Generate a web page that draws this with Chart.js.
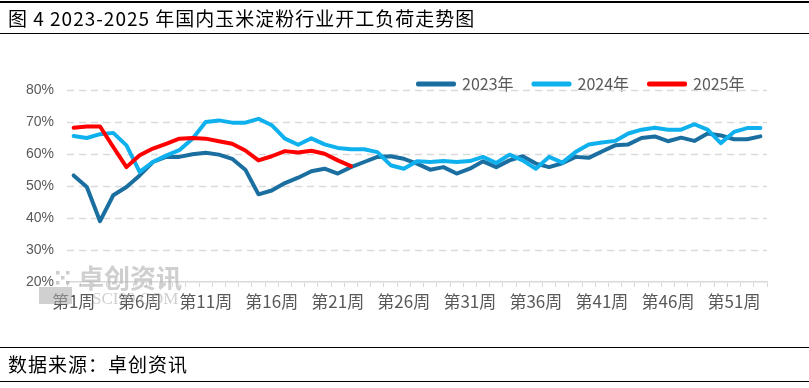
<!DOCTYPE html>
<html>
<head>
<meta charset="utf-8">
<script src="https://cdn.jsdelivr.net/npm/chart.js@4/dist/chart.umd.min.js"></script>
<style>
  html, body { margin: 0; padding: 0; background: #fff; }
  #wrap { position: relative; width: 809px; height: 388px; overflow: hidden; }
  #chart { position: absolute; left: 0; top: 0; }
  .bar { position: absolute; left: 0; width: 809px; box-sizing: border-box; padding-left: 8px;
         font: 19px "Noto Sans CJK SC"; letter-spacing: 1px; color: #000; }
  #title { top: 1px; height: 33px; line-height: 30px; border-top: 2px solid #000; border-bottom: 1.5px solid #000; }
  #source { top: 347px; height: 35px; line-height: 32px; border-top: 1.5px solid #000; border-bottom: 1.5px solid #000; }
</style>
</head>
<body>
<div id="wrap">
  <canvas id="chart" width="809" height="388"></canvas>
  <div id="title" class="bar">图 4 2023-2025 年国内玉米淀粉行业开工负荷走势图</div>
  <div id="source" class="bar">数据来源：卓创资讯</div>
</div>
<script>
// 周次
const weeks = Array.from({ length: 53 }, (_, i) => '第' + (i + 1) + '周');

// 开工负荷 (%)
const y2023 = [53.3, 49.7, 39.0, 47.1, 49.7, 53.3, 57.5, 59.1, 59.1, 59.9,
               60.4, 59.8, 58.5, 55.1, 47.4, 48.6, 50.9, 52.6, 54.6, 55.4,
               53.9, 55.9, 57.5, 59.1, 59.3, 58.5, 57.0, 55.1, 55.9, 53.9,
               55.4, 57.7, 55.9, 58.0, 59.3, 57.0, 55.9, 57.1, 59.1, 58.8,
               60.8, 62.7, 63.0, 65.0, 65.5, 64.0, 65.1, 64.1, 66.4, 65.8,
               64.6, 64.6, 65.5];
const y2024 = [65.6, 65.0, 66.2, 66.6, 62.7, 54.4, 57.5, 59.5, 61.2, 64.8,
               70.0, 70.5, 69.8, 69.8, 71.0, 69.0, 64.8, 62.9, 64.9, 63.0,
               61.9, 61.5, 61.5, 60.6, 56.5, 55.4, 57.7, 57.5, 57.8, 57.5,
               57.8, 59.1, 57.2, 59.8, 58.0, 55.4, 59.1, 57.3, 60.6, 63.0,
               63.6, 64.1, 66.4, 67.6, 68.2, 67.6, 67.6, 69.3, 67.6, 63.4,
               66.9, 68.1, 68.1];
const y2025 = [68.2, 68.6, 68.6, 62.2, 55.9, 59.6, 61.7, 63.2, 64.8, 65.0,
               64.8, 64.0, 63.2, 61.1, 58.0, 59.3, 60.9, 60.5, 61.0, 60.1,
               58.0, 56.2];

const seriesNames = ['2023年', '2024年', '2025年'];
const yTicks = [20, 30, 40, 50, 60, 70, 80];

const gray = '#595959';
const gridGray = '#d9d9d9';

function line(label, data, color, order) {
  return {
    label: label,
    data: data,
    borderColor: color,
    backgroundColor: color,
    borderWidth: 4,
    pointRadius: 0,
    tension: 0,
    borderJoinStyle: 'round',
    borderCapStyle: 'round',
    order: order
  };
}

// 图例挪到绘图区上方右侧
const legendPos = {
  id: 'legendPos',
  afterUpdate(chart) {
    const lg = chart.legend;
    const h = lg.bottom - lg.top;
    lg.left = 398;
    lg.right = 809;
    lg.top = 56;
    lg.bottom = lg.top + h;
  }
};

// 虚线网格 (按 y 轴刻度)
const dashedGrid = {
  id: 'dashedGrid',
  beforeDatasetsDraw(chart) {
    const ctx = chart.ctx;
    const area = chart.chartArea;
    const y = chart.scales.y;
    ctx.save();
    ctx.strokeStyle = gridGray;
    ctx.lineWidth = 1.5;
    ctx.setLineDash([7, 5]);
    yTicks.slice(1).forEach(v => {
      const py = Math.round(y.getPixelForValue(v)) + 0.5;
      ctx.beginPath();
      ctx.moveTo(area.left, py);
      ctx.lineTo(area.right, py);
      ctx.stroke();
    });
    ctx.restore();
  }
};

// 水印
const watermark = {
  id: 'watermark',
  afterDraw(chart) {
    const ctx = chart.ctx;
    ctx.save();
    ctx.fillStyle = 'rgba(170,170,170,0.55)';
    ctx.fillRect(39, 287, 33, 17);
    ctx.fillStyle = 'rgba(170,170,170,0.6)';
    for (let r = 0; r < 3; r++) {
      for (let c = 0; c < 3; c++) {
        if ((r + c) % 2 === 0) ctx.fillRect(56 + c * 5, 271 + r * 5, 3.5, 3.5);
      }
    }
    ctx.fillStyle = 'rgba(175,175,175,0.6)';
    ctx.font = 'bold 26px "Noto Sans CJK SC"';
    ctx.textBaseline = 'middle';
    ctx.fillText('卓创资讯', 78, 278);
    ctx.font = '17px "Liberation Serif"';
    ctx.fillText('SCI99.COM', 92, 300);
    ctx.restore();
  }
};

new Chart(document.getElementById('chart'), {
  type: 'line',
  data: {
    labels: weeks,
    datasets: [
      line(seriesNames[0], y2023, '#1a6fa0', 3),
      line(seriesNames[1], y2024, '#0fb0ee', 2),
      line(seriesNames[2], y2025, '#ff0000', 1)
    ]
  },
  options: {
    responsive: false,
    animation: false,
    layout: { padding: { left: 13, right: 42, top: 44, bottom: 72.6 } },
    plugins: {
      title: { display: false },
      tooltip: { enabled: false },
      legend: {
        position: 'top',
        align: 'start',
        labels: {
          boxWidth: 36,
          boxHeight: 1,
          padding: 20,
          color: gray,
          font: { family: 'Noto Sans CJK SC', size: 16 },
          sort: (a, b) => a.datasetIndex - b.datasetIndex
        }
      }
    },
    scales: {
      x: {
        offset: true,
        grid: { drawOnChartArea: false, drawTicks: true, tickLength: 5, offset: true, color: gridGray, lineWidth: 1 },
        border: { color: gridGray, width: 1.5 },
        ticks: {
          autoSkip: false,
          maxRotation: 0,
          padding: 4,
          color: gray,
          font: { family: 'Noto Sans CJK SC', size: 17 },
          callback: function (v, i) { return i % 5 === 0 ? this.getLabelForValue(v) : ''; }
        }
      },
      y: {
        min: yTicks[0],
        max: yTicks[yTicks.length - 1],
        afterBuildTicks: (axis) => { axis.ticks = yTicks.map(v => ({ value: v })); },
        grid: { drawOnChartArea: false, drawTicks: false },
        border: { display: false },
        ticks: {
          padding: 13,
          color: gray,
          font: { family: 'Liberation Sans', size: 14 },
          callback: (v) => v + '%'
        }
      }
    }
  },
  plugins: [legendPos, dashedGrid, watermark]
});
</script>
</body>
</html>
